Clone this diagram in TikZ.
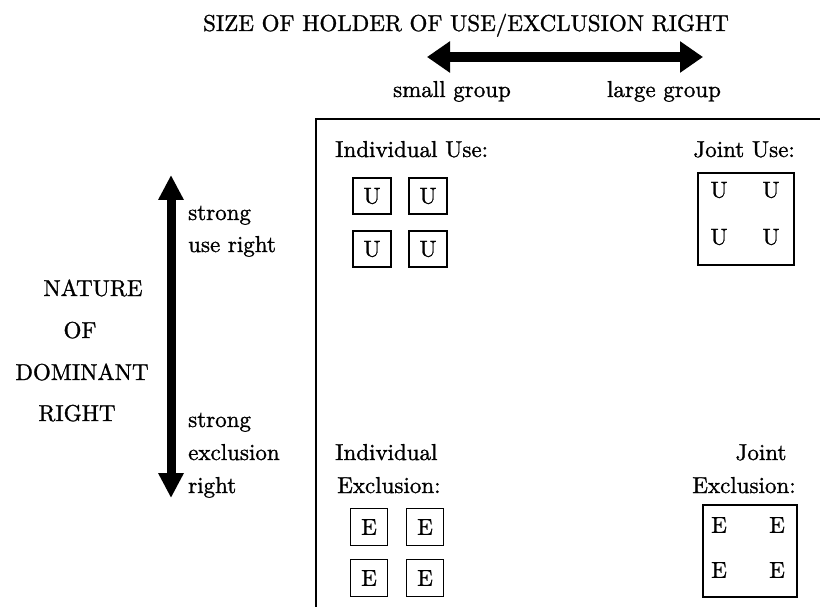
\documentclass[tikz,border=0pt]{standalone}
\usepackage{fontspec}
\setmainfont{lmroman10-regular}[Extension=.otf, FakeBold=1.2]
\usetikzlibrary{arrows.meta}
\newcommand{\mainsize}{\fontsize{23}{32.5}\selectfont}
\begin{document}
\begin{tikzpicture}[x=1pt,y=-1pt,
  lbl/.style={inner sep=0pt, font=\mainsize},
  cell/.style={draw, line width=1.4pt, minimum width=38pt, minimum height=36pt, inner sep=0pt, font=\mainsize},
  groupbox/.style={draw, line width=1.4pt, inner sep=0pt},
  frameline/.style={line width=1.5pt},
  hbig/.style={line width=10pt, {Triangle[length=23pt,width=30pt]}-{Triangle[length=23pt,width=30pt]}},
  vbig/.style={line width=9pt, {Triangle[length=25pt,width=24pt]}-{Triangle[length=25pt,width=24pt]}}]
\useasboundingbox (0,0) rectangle (820,607);

% horizontal axis: size of the right holder
\node[lbl, anchor=base] (title) at (466,31) {SIZE OF HOLDER OF USE/EXCLUSION RIGHT};
\coordinate (hl) at (427,57);
\coordinate (hr) at (703,57);
\draw[hbig] (hl) -- (hr);
\node[lbl, anchor=base] (small) at (452,97) {small group};
\node[lbl, anchor=base] (large) at (664,97) {large group};

% vertical axis: nature of the dominant right
\coordinate (vb) at (171,498);
\coordinate (vt) at (171,175);
\draw[vbig] (vb) -- (vt);
\node[lbl, anchor=base west] (su1) at (188,220) {strong};
\node[lbl, anchor=base west] (su2) at (188,252) {use right};
\node[lbl, anchor=base west] (se1) at (188,427) {strong};
\node[lbl, anchor=base west] (se2) at (188,460) {exclusion};
\node[lbl, anchor=base west] (se3) at (188,493) {right};
\node[lbl, anchor=base] (n1) at (93,296) {NATURE};
\node[lbl, anchor=base] (n2) at (80,338) {OF};
\node[lbl, anchor=base] (n3) at (82,380) {DOMINANT};
\node[lbl, anchor=base] (n4) at (77,421) {RIGHT};

% quadrant frame
\draw[frameline] (316,607) -- (316,119) -- (820,119);

% individual use
\node[lbl, anchor=base west] (iu) at (335,157) {Individual Use:};
\node[cell] (u1) at (372,196) {U};
\node[cell] (u2) at (428,196) {U};
\node[cell] (u3) at (372,249) {U};
\node[cell] (u4) at (428,249) {U};

% joint use
\node[lbl, anchor=base east] (ju) at (795,157) {Joint Use:};
\node[groupbox, minimum width=96pt, minimum height=92pt] (jub) at (746,219) {};
\node[lbl] (ju1) at (719,190) {U};
\node[lbl] (ju2) at (771,190) {U};
\node[lbl] (ju3) at (719,237) {U};
\node[lbl] (ju4) at (771,237) {U};

% individual exclusion
\node[lbl, anchor=base west] (ie1) at (335,460) {Individual};
\node[lbl, anchor=base west] (ie2) at (337,493) {Exclusion:};
\node[cell, minimum width=37pt, minimum height=37pt] (e1) at (369,527) {E};
\node[cell, minimum width=37pt, minimum height=37pt] (e2) at (425,527) {E};
\node[cell, minimum width=37pt, minimum height=37pt] (e3) at (369,578) {E};
\node[cell, minimum width=37pt, minimum height=37pt] (e4) at (425,578) {E};

% joint exclusion
\node[lbl, anchor=base] (je1) at (761,460) {Joint};
\node[lbl, anchor=base] (je2) at (744,493) {Exclusion:};
\node[groupbox, minimum width=94pt, minimum height=92pt] (jeb) at (750,551) {};
\node[lbl] (je3) at (719,525) {E};
\node[lbl] (je4) at (777,525) {E};
\node[lbl] (je5) at (719,570) {E};
\node[lbl] (je6) at (777,570) {E};
\end{tikzpicture}
\end{document}
